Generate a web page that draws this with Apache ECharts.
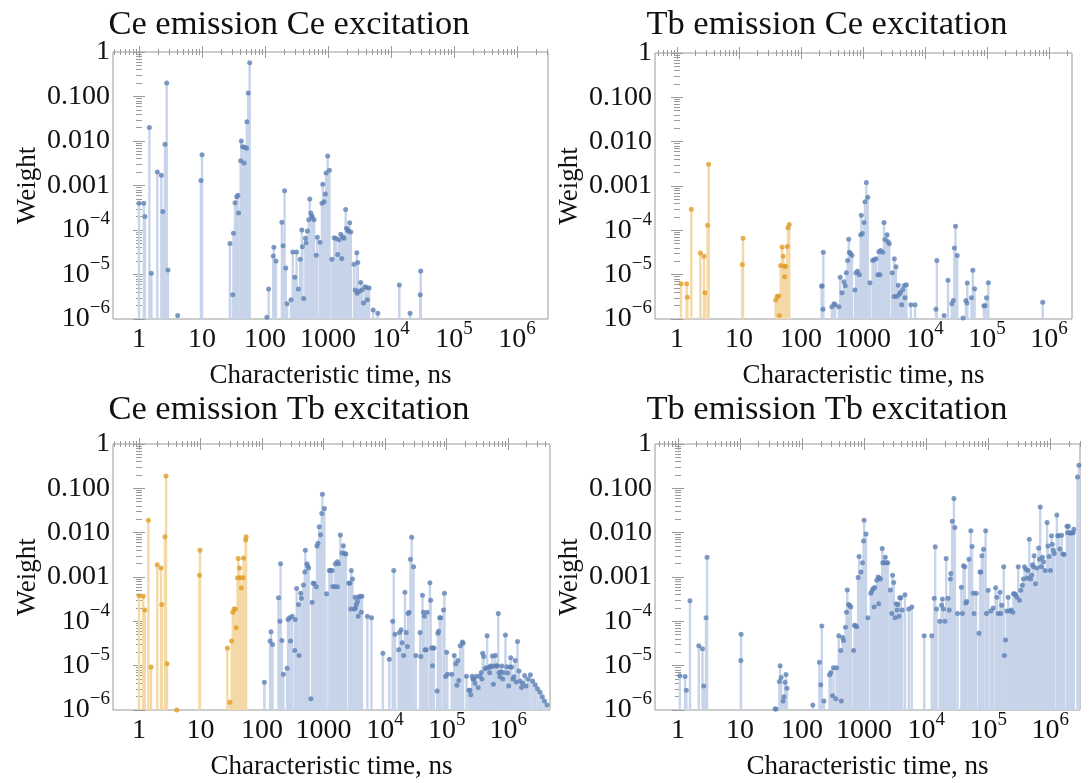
<!DOCTYPE html>
<html>
<head>
<meta charset="utf-8">
<script src="https://cdn.jsdelivr.net/npm/echarts@6/dist/echarts.min.js"></script>
<style>
html, body { margin: 0; background: #fff; }
#chart { width: 1089px; height: 783px; }
</style>
</head>
<body>
<div id="chart"></div>
<script>
// [characteristic time (ns), weight]

// Ce emission, Ce excitation
const ceCeBlue = [
    [1.0,4e-4],[1.19,4e-4],[1.24,2e-4],[1.46,0.02],[1.57,1.07e-5],[1.95,0.002],[2.26,1.7e-3],[2.38,2.6e-4],
    [2.58,0.0085],[2.75,0.2],[2.88,1.26e-5],[4.1,1.2e-6],[9.6,0.0013],[10,0.0049],
    [27.7,5e-5],[30.8,3.5e-6],[31.5,8.5e-5],[33.4,4.1e-4],[35.5,5.6e-4],[37,6e-4],[38,2.4e-4],[41,0.0036],
    [42,0.010],[44,0.0074],[46.5,0.0032],[47.6,0.0072],[51,0.0069],[51.5,0.027],[54,0.12],[57,0.57],
    [107,1.1e-6],[114,4.7e-6],[135,2.6e-5],[138,4.1e-5],[149,2e-5],[185,1.5e-4],[193,4.4e-5],[204,7.6e-4],
    [213,1.4e-5],[224,2.2e-6],[258,2.7e-6],[275,3.2e-5],[296,8.7e-6],[316,3.2e-5],[338,4.7e-6],[361,2.2e-5],
    [383,1e-4],[391,4.2e-5],[410,2.9e-6],[437,6.5e-5],[447,5.2e-5],[469,9.5e-5],[494,1.7e-4],[512,5e-4],
    [532,2.4e-4],[550,2.1e-4],[560,1.9e-4],[600,1.7e-4],[650,2.7e-5],[675,6.9e-5],[745,5.3e-5],[800,4e-4],
    [825,1.07e-3],[865,4.3e-4],[905,6.4e-4],[930,0.0019],[985,0.0046],[1050,0.0022],[1150,2.2e-5],[1250,6.7e-5],
    [1340,6.4e-5],[1420,2.8e-5],[1490,6e-5],[1590,8e-5],[1650,2.3e-5],[1710,7e-5],[1790,6.5e-5],[1900,2.9e-4],
    [1960,1.1e-4],[2040,1e-4],[2100,9.5e-5],[2200,1.45e-4],[2290,9e-5],[2580,1.7e-5],[2700,4.5e-6],[2860,3.1e-5],
    [2900,3.8e-6],[2960,1.85e-5],[3100,4.2e-6],[3300,6.6e-6],[3450,4.5e-6],[3650,2.3e-6],[3830,5.3e-6],[4100,5.1e-6],
    [4200,2.7e-6],[4480,5e-6],[5200,1.6e-6],[6150,1.35e-6],[13500,5.8e-6],[20000,1.35e-6],[29000,3.5e-6],[29500,1.2e-5]
];

// Tb emission, Ce excitation
const tbCeOrange = [
    [1.16,6.2e-6],[1.43,6.2e-6],[1.47,3.1e-6],[1.70,3e-4],[2.38,3.1e-5],[2.72,2.6e-5],[2.82,3.9e-6],[3.12,1.3e-4],
    [3.24,0.0031],[11.3,1.7e-5],[11.6,6.6e-5],[39,2.7e-6],[41,3.2e-6],[43.6,3.3e-6],[44.6,1.2e-6],[47,1.6e-5],
    [49.5,4.2e-5],[51.5,2.6e-5],[54,1.55e-5],[54.5,9e-6],[56.5,1.55e-5],[60,4.3e-5],[61.5,1.15e-4],[64.6,1.35e-4]
];
const tbCeBlue = [
    [215,5.5e-6],[219,5.6e-6],[226,1.65e-6],[229,3.2e-5],[314,1.9e-6],[340,2.2e-6],[356,2.1e-6],[408,1.9e-6],
    [428,8.7e-6],[458,3.9e-6],[492,6.9e-6],[517,5.6e-6],[537,1.1e-5],[565,2.1e-5],[588,6.3e-5],[600,3.2e-5],
    [630,3e-5],[662,2.7e-5],[742,4.5e-6],[770,1.1e-5],[815,1.2e-5],[875,1e-5],[915,7.9e-5],[938,2.2e-4],
    [975,8.5e-5],[1040,1.5e-4],[1075,4.4e-4],[1130,0.0012],[1190,5.6e-4],[1290,6.6e-6],[1430,2.1e-5],[1520,2.2e-5],
    [1620,2.3e-5],[1730,1e-5],[1800,3.3e-5],[1880,1e-5],[1920,3.5e-5],[2080,3.2e-5],[2180,1.5e-4],[2260,6.2e-5],
    [2440,8e-5],[2530,5.5e-5],[2650,5e-5],[2960,1.1e-5],[3170,3.2e-6],[3200,2.3e-5],[3400,1.5e-5],[3500,3.2e-6],
    [3700,5.8e-6],[3850,3.6e-6],[4000,4e-6],[4200,2.1e-6],[4350,4.6e-6],[4600,5.7e-6],[4750,3e-6],[5000,5.9e-6],
    [5900,2.1e-6],[6900,2.1e-6],[15000,1.65e-6],[15500,2.1e-5],[20300,1.2e-6],[23500,7.5e-6],[27000,2.2e-6],
    [28500,2.6e-6],[29700,4e-5],[31000,1.24e-4],[33000,2.7e-5],[41000,1.05e-6],[45500,2.6e-6],[47500,2.3e-6],
    [48000,6.5e-6],[56000,3e-6],[59000,1.26e-5],[63000,4.8e-6],[89000,2e-6],[93000,2e-6],[98000,3e-6],
    [105000,6.6e-6],[790000,2.4e-6]
];

// Ce emission, Tb excitation
const ceTbOrange = [
    [1.0,3.8e-4],[1.17,3.7e-4],[1.24,1.8e-4],[1.42,0.019],[1.57,9.3e-6],[1.98,0.0019],[2.28,0.0016],[2.34,2.4e-4],
    [2.64,0.0081],[2.75,0.19],[2.85,1.1e-5],[4.1,1e-6],[9.6,0.0011],[9.8,0.004],[27.3,2.5e-5],[30,1.5e-6],
    [32,3.6e-5],[33.4,1.6e-4],[35,1.9e-4],[37,1.9e-4],[38,7.2e-5],[40,9.6e-4],[41,0.0026],[43,0.0016],
    [44,9.6e-4],[46,5.7e-4],[49,9.6e-4],[50,0.0027],[54,0.0068],[55,0.0081]
];
const ceTbBlue = [
    [109,4.2e-6],[135,3.6e-5],[140,5.8e-5],[148,3e-5],[185,3.4e-4],[195,1e-4],[200,0.002],[210,3.7e-5],
    [222,6.4e-6],[255,8.7e-6],[264,1.1e-4],[280,1.2e-4],[290,3.6e-5],[308,1.3e-4],[340,2.2e-5],[345,1.1e-4],
    [365,5.5e-4],[390,2.4e-4],[400,1.7e-5],[425,4.3e-4],[435,3.3e-4],[470,6.6e-4],[495,0.0013],[505,0.004],
    [535,0.002],[550,0.0018],[570,0.0016],[620,1.8e-6],[650,2.7e-4],[675,7.2e-4],[700,7.2e-4],[760,6e-4],
    [780,0.005],[810,0.0058],[850,0.0136],[890,0.009],[935,0.027],[955,0.074],[1030,0.035],[1115,4.2e-4],
    [1240,0.0014],[1290,0.0014],[1380,0.0014],[1410,6.1e-4],[1530,6e-4],[1550,0.002],[1670,0.0022],[1680,6e-4],
    [1750,0.002],[1870,0.0089],[1990,0.0035],[2100,0.0051],[2200,0.0034],[2300,0.0033],[2570,7.3e-4],[2680,7.2e-4],
    [2770,1.9e-4],[2820,0.0014],[2950,9e-4],[3170,1.9e-4],[3250,3.5e-4],[3300,2e-4],[3400,2.4e-4],[3550,2.8e-4],
    [3650,1.3e-4],[3700,3.5e-4],[3900,3.7e-4],[4100,1.6e-4],[4200,3.7e-4],[5150,1.3e-4],[6000,1.2e-4],
    [9200,1.9e-5],[11700,1.4e-5],[13300,1e-4],[13800,0.0014],[14500,5.1e-5],[16600,2.3e-5],[17200,5.6e-5],
    [18200,6.5e-5],[19000,3.3e-5],[20000,1.7e-5],[21000,4.5e-4],[22000,5.6e-5],[23000,2.7e-5],[23600,1.5e-4],
    [24500,1.6e-4],[25800,0.0025],[27000,0.0079],[29000,0.0017],[31500,1.7e-5],[37000,5.6e-5],[38000,1.6e-5],
    [40500,3.9e-4],[42000,1.6e-4],[43500,1.3e-4],[44500,2.3e-5],[46500,2.3e-5],[48500,1.6e-4],[53500,7.4e-4],
    [55000,3e-4],[57000,2.5e-5],[59000,1e-5],[60000,2.5e-5],[62000,2.5e-5],[70000,2.7e-6],[72000,5.4e-5],
    [74000,6e-5],[77000,1.2e-4],[80000,1.2e-4],[89000,1.8e-4],[92000,4.3e-4],[96000,5.7e-6],[100000,2e-5],
    [103000,6.4e-6],[121000,6.4e-6],[133000,1.7e-5],[141000,1.1e-5],[147000,3.6e-6],[152000,1.3e-5],[158000,4.6e-6],
    [166000,2.8e-5],[180000,3.4e-5],[185000,3.2e-5],[210000,5.8e-6],[230000,2.8e-6],[240000,2.8e-6],[246000,2.2e-6],
    [260000,5.8e-6],[268000,5e-6],[275000,5e-6],[290000,4e-6],[305000,5.8e-6],[325000,3.2e-6],[345000,5.8e-6],
    [365000,7e-6],[375000,5e-6],[385000,1.9e-5],[400000,1.6e-5],[420000,8.5e-6],[440000,9e-6],[455000,4.7e-5],
    [480000,9e-6],[500000,6.9e-6],[515000,9.8e-6],[530000,9.5e-6],[556000,1.66e-5],[575000,3.8e-6],[595000,9.8e-6],
    [620000,1.7e-5],[650000,1e-5],[670000,9.8e-6],[690000,1.5e-4],[710000,6.9e-6],[735000,5.6e-6],[760000,7.3e-6],
    [790000,9.8e-6],[815000,5e-6],[845000,7e-6],[904000,4.9e-5],[950000,9.5e-6],[985000,6.8e-6],[1020000,3.5e-6],
    [1070000,9.3e-6],[1100000,1.5e-5],[1140000,9.3e-6],[1190000,5e-6],[1240000,5.6e-6],[1300000,1.3e-5],
    [1350000,4.3e-6],[1420000,3.5e-5],[1500000,7.6e-6],[1570000,4.5e-6],[1650000,3.2e-6],[1720000,4e-6],
    [1850000,6e-6],[1950000,3.5e-6],[2100000,5e-6],[2300000,6.2e-6],[2500000,4.5e-6],[2750000,3.7e-6],
    [3000000,3e-6],[3300000,2.5e-6],[3600000,2e-6],[3900000,1.6e-6],[4300000,1.3e-6]
];

// Tb emission, Tb excitation
const tbTbBlue = [
    [1.07,5.9e-6],[1.3,5.7e-6],[1.36,2.8e-6],[1.56,2.9e-4],[2.16,2.8e-5],[2.48,2.4e-5],[2.6,3.5e-6],[2.83,1.2e-4],
    [2.94,0.0028],[10.3,1.3e-5],[10.4,5.1e-5],[36.7,1.05e-6],[38,1.05e-6],[43,4.4e-6],[44.3,1e-5],[46,5.4e-6],
    [49.4,1.6e-6],[51,2e-6],[53,4.2e-6],[55,6.3e-6],[57,3.1e-6],[149,1.3e-6],[190,1.2e-5],[200,3.7e-6],
    [208,7.8e-5],[225,1.6e-6],[277,6.2e-6],[290,7e-6],[310,2.1e-6],[320,9e-6],[350,1.8e-6],[360,9e-6],
    [390,4.7e-5],[420,2.2e-5],[430,1.6e-6],[450,4.3e-5],[465,3.7e-5],[500,7.4e-5],[520,1.6e-4],[535,5.1e-4],
    [560,2.4e-4],[585,2.3e-4],[610,2.1e-4],[675,2.2e-5],[700,8.2e-5],[730,8e-5],[760,7.5e-5],[800,9.8e-4],
    [830,0.0029],[890,0.0013],[940,0.0021],[980,0.0065],[1000,0.019],[1070,0.0093],[1150,1.2e-4],[1280,4.3e-4],
    [1340,4.9e-4],[1400,5.5e-4],[1450,2.1e-4],[1480,5.8e-4],[1600,8.5e-4],[1680,0.001],[1720,2.5e-4],[1760,9.5e-4],
    [1830,9e-4],[1960,0.0044],[2000,0.0021],[2100,0.0021],[2190,0.0028],[2300,0.0021],[2400,0.0021],[2650,5.1e-4],
    [2800,1.5e-4],[2880,0.0011],[3000,7.5e-4],[3150,1.2e-4],[3280,2.5e-4],[3400,1.8e-4],[3500,2.4e-4],[3650,1.3e-4],
    [3750,3.4e-4],[3900,3.4e-4],[4100,1.8e-4],[4550,4e-4],[5250,1.9e-4],[5850,2.1e-4],[9300,4.7e-5],[12300,4.7e-5],
    [13500,3.3e-4],[14000,0.0048],[14700,1.9e-4],[16600,1e-4],[17700,2.3e-4],[18300,3.2e-4],[19000,1.9e-4],
    [20000,1e-4],[21000,0.0026],[22500,3.3e-4],[23500,1.8e-4],[24500,9e-4],[25000,0.0012],[26300,0.018],
    [28000,0.059],[29000,0.013],[32000,1.5e-4],[37000,5.9e-4],[38500,1.5e-4],[40000,0.0018],[42000,0.0017],
    [43500,2.6e-4],[45000,2.8e-4],[49000,0.0025],[52500,0.011],[55000,0.0049],[57500,4.3e-4],[59000,1.5e-4],
    [64000,4.3e-4],[71000,5.4e-5],[74000,0.0013],[76000,0.0013],[79000,0.003],[84000,0.0042],[91000,0.011],
    [94000,1.5e-4],[100000,5e-4],[110000,1.7e-4],[120000,2e-4],[132000,5.7e-4],[138000,3.5e-4],[145000,1.5e-4],
    [155000,4.5e-4],[160000,1.5e-4],[165000,2.3e-4],[178000,0.0017],[182000,1.7e-5],[190000,3.8e-5],[200000,1.7e-4],
    [210000,3.5e-4],[220000,1.7e-4],[235000,1.8e-4],[250000,1.6e-4],[255000,4.2e-4],[265000,4.2e-4],[275000,4e-4],
    [290000,3.5e-4],[305000,0.0017],[320000,3e-4],[335000,5e-4],[355000,6.5e-4],[370000,9e-4],[385000,0.0017],
    [405000,0.0015],[425000,9.5e-4],[440000,0.0014],[460000,0.0071],[480000,9e-4],[500000,0.0011],[520000,0.0019],
    [535000,0.0017],[550000,0.003],[580000,7e-4],[610000,0.0016],[650000,0.0045],[670000,0.0025],[690000,0.038],
    [720000,0.0017],[750000,0.0028],[780000,0.0022],[830000,0.0014],[890000,0.017],[920000,0.005],[960000,0.0029],
    [1010000,0.0014],[1050000,0.0085],[1080000,0.0055],[1120000,0.004],[1160000,0.0034],[1280000,0.025],
    [1320000,0.0085],[1370000,0.0085],[1430000,0.0043],[1530000,0.0087],[1600000,0.0033],[1680000,0.0032],
    [1860000,0.014],[1900000,0.01],[1960000,0.014],[2050000,0.01],[2150000,0.0097],[2250000,0.01],[2350000,0.01],
    [2400000,0.012],[2750000,0.18],[2900000,0.33]
];

// tick labels (log10 positions)
const xTicks = [0, 1, 2, 3, 4, 5, 6];
const yTicks = [-6, -5, -4, -3, -2, -1, 0];
const yPlainLabels = { '0': '1', '-1': '0.100', '-2': '0.010', '-3': '0.001' };
const xPlainLabels = { '0': '1', '1': '10', '2': '100', '3': '1000' };

const BLUE = '#5e81b5', BLUE_STEM = '#c7d4e9';
const ORANGE = '#e19c24', ORANGE_STEM = '#f4d9a6';
const FONT = '"Liberation Serif", "Times New Roman", serif';
const FRAME = '#9a9a9a';

const panels = [
    { title: 'Ce emission Ce excitation', box: [113, 52, 435, 267], xr: [-0.413, 6.49], titlePos: [284, 2],
      groups: [[ceCeBlue, BLUE, BLUE_STEM]] },
    { title: 'Tb emission Ce excitation', box: [655, 53, 417, 266], xr: [-0.355, 6.37], titlePos: [822, 2],
      groups: [[tbCeOrange, ORANGE, ORANGE_STEM], [tbCeBlue, BLUE, BLUE_STEM]] },
    { title: 'Ce emission Tb excitation', box: [113, 444, 437, 266], xr: [-0.423, 6.68], titlePos: [284, 387],
      groups: [[ceTbOrange, ORANGE, ORANGE_STEM], [ceTbBlue, BLUE, BLUE_STEM]] },
    { title: 'Tb emission Tb excitation', box: [655, 444, 425, 266], xr: [-0.371, 6.48], titlePos: [822, 387],
      groups: [[tbTbBlue, BLUE, BLUE_STEM]] }
];

const minorTicks = (lo, hi) => {
    const v = [];
    for (let d = Math.floor(lo); d <= Math.ceil(hi); d++) {
        for (let k = 2; k <= 9; k++) {
            const p = d + Math.log10(k);
            if (p > lo && p < hi) v.push(p);
        }
    }
    return v;
};

// every label has the same box, so plain and superscripted labels share one baseline
const rich = {
    b: { fontFamily: FONT, fontSize: 28, color: '#111', padding: [6, 0, 6, 0] },
    s: { fontFamily: FONT, fontSize: 19, color: '#111', verticalAlign: 'top' }
};
const xLabel = v => {
    const k = String(Math.round(v));
    return xPlainLabels[k] !== undefined ? '{b|' + xPlainLabels[k] + '}' : '{b|10}{s|' + k + '}';
};
const yLabel = v => {
    const k = String(Math.round(v));
    return yPlainLabels[k] !== undefined ? '{b|' + yPlainLabels[k] + '}' : '{b|10}{s|\u2212' + k.replace('-', '') + '}';
};

const grid = [], xAxis = [], yAxis = [], series = [], title = [];
panels.forEach((p, i) => {
    const [left, top, width, height] = p.box;
    grid.push({ left, top, width, height, show: true, borderColor: FRAME, borderWidth: 1,
        backgroundColor: 'transparent', outerBoundsMode: 'none', containLabel: false });
    title.push({ text: p.title, left: p.titlePos[0], top: p.titlePos[1], textAlign: 'center',
        textStyle: { fontFamily: FONT, fontSize: 34.5, fontWeight: 'normal', color: '#111' } });

    const xMinor = minorTicks(p.xr[0], p.xr[1]);
    const yMinor = minorTicks(-6, 0);
    const xBase = xAxis.length, yBase = yAxis.length;
    const common = { gridIndex: i, type: 'value', axisLine: { show: false }, splitLine: { show: false } };

    // bottom: labelled majors, then minors; top: majors and minors
    xAxis.push(Object.assign({}, common, {
        min: p.xr[0], max: p.xr[1], position: 'bottom',
        axisTick: { inside: true, length: 6, customValues: xTicks, lineStyle: { color: FRAME } },
        axisLabel: { customValues: xTicks, formatter: xLabel, rich, margin: 1 },
        name: 'Characteristic time, ns', nameLocation: 'middle', nameGap: 43,
        nameTextStyle: { fontFamily: FONT, fontSize: 27, color: '#111' }
    }));
    [['bottom', xMinor, 3], ['top', xTicks, 6], ['top', xMinor, 3]].forEach(([pos, vals, len]) => {
        xAxis.push(Object.assign({}, common, {
            min: p.xr[0], max: p.xr[1], position: pos,
            axisTick: { inside: true, length: len, customValues: vals, lineStyle: { color: FRAME } },
            axisLabel: { show: false }
        }));
    });

    yAxis.push(Object.assign({}, common, {
        min: -6, max: 0, position: 'left',
        axisTick: { inside: true, length: 6, customValues: yTicks, lineStyle: { color: FRAME } },
        axisLabel: { customValues: yTicks, formatter: yLabel, rich, margin: 3 },
        name: 'Weight', nameLocation: 'middle', nameGap: 72, nameRotate: 90,
        nameTextStyle: { fontFamily: FONT, fontSize: 27, color: '#111' }
    }));
    [['left', yMinor, 3], ['right', yTicks, 6], ['right', yMinor, 3]].forEach(([pos, vals, len]) => {
        yAxis.push(Object.assign({}, common, {
            min: -6, max: 0, position: pos,
            axisTick: { inside: true, length: len, customValues: vals, lineStyle: { color: FRAME } },
            axisLabel: { show: false }
        }));
    });

    p.groups.forEach(([pts, dot, stem]) => {
        const data = pts.map(([t, w]) => [Math.log10(t), Math.log10(w)]);
        series.push({
            type: 'custom', xAxisIndex: xBase, yAxisIndex: yBase, data, clip: true, silent: true, z: 1,
            encode: { x: 0, y: 1 },
            renderItem: (params, api) => {
                const tip = api.coord([api.value(0), api.value(1)]);
                const base = api.coord([api.value(0), -6]);
                return { type: 'line', shape: { x1: tip[0], y1: base[1], x2: tip[0], y2: tip[1] },
                    style: { stroke: stem, lineWidth: 2.4 } };
            }
        });
        series.push({
            type: 'scatter', xAxisIndex: xBase, yAxisIndex: yBase, data, symbolSize: 5, clip: true, z: 2,
            itemStyle: { color: dot }
        });
    });
});

const chart = echarts.init(document.getElementById('chart'));
chart.setOption({ animation: false, title, grid, xAxis, yAxis, series });
</script>
</body>
</html>
